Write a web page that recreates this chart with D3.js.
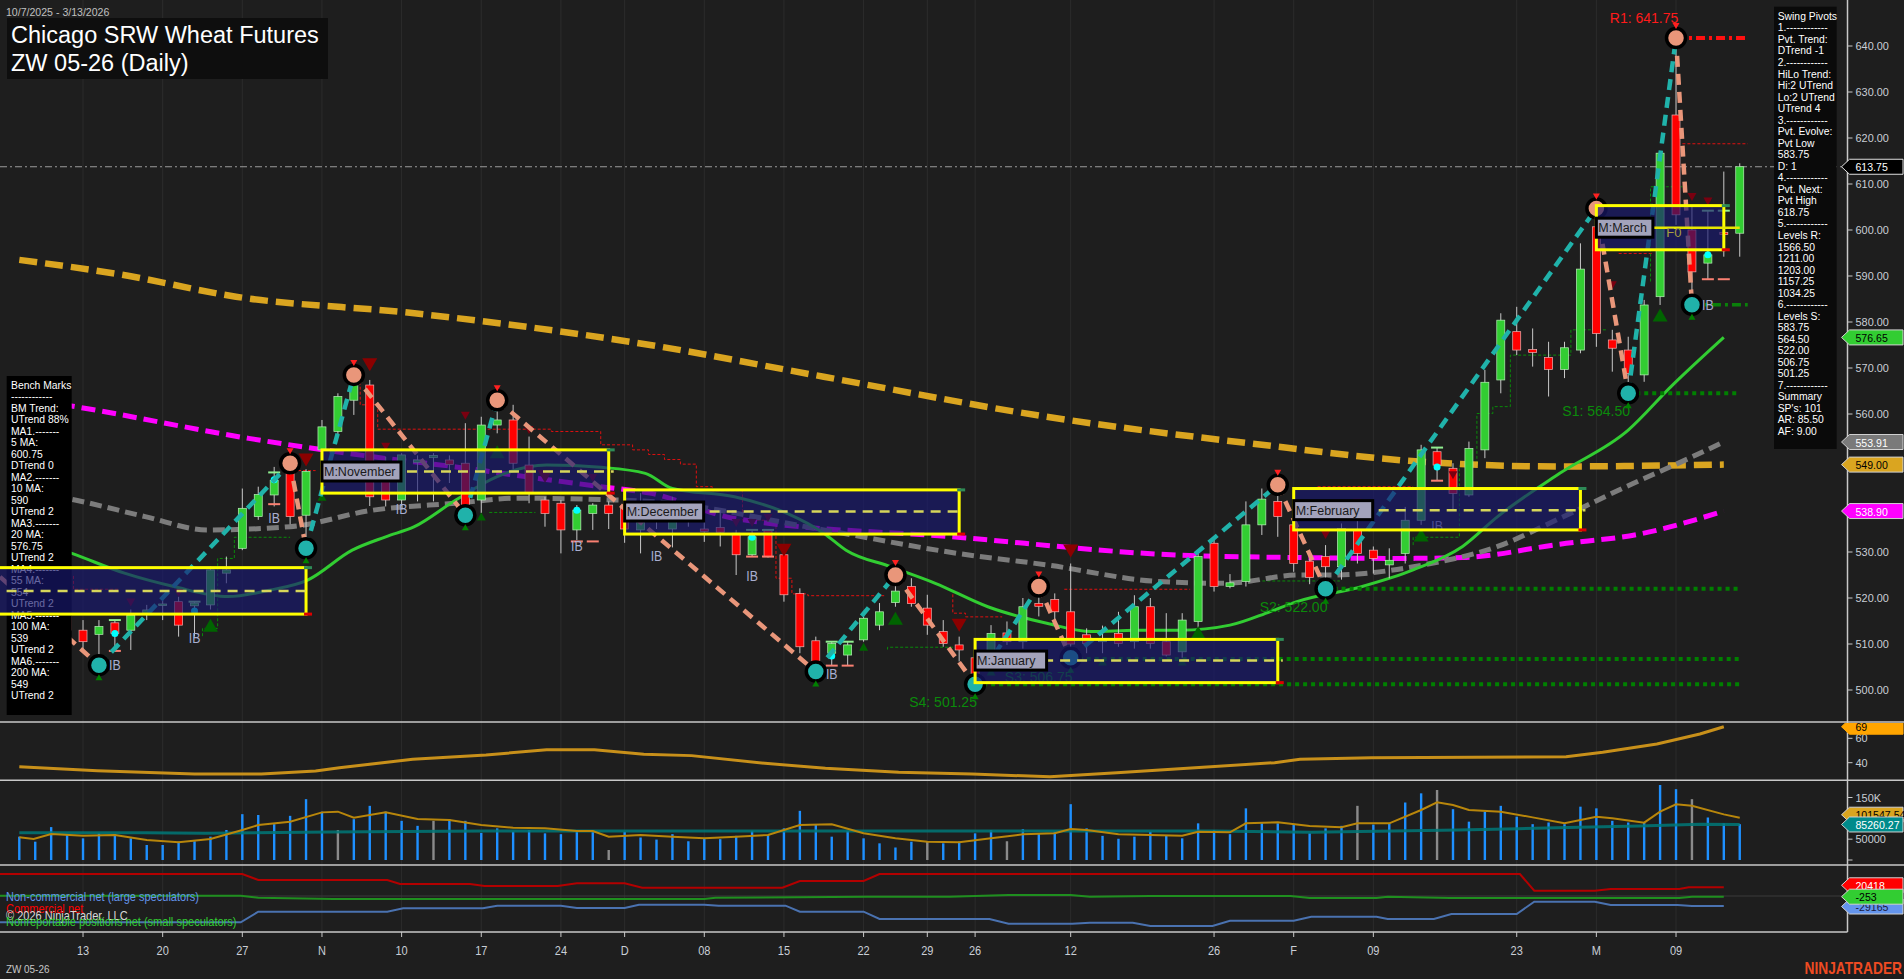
<!DOCTYPE html>
<html><head><meta charset="utf-8">
<script src="https://cdn.jsdelivr.net/npm/d3@7/dist/d3.min.js"></script>
<style>
html,body{margin:0;padding:0;background:#1e1e1e;overflow:hidden}
svg{display:block}
text{font-family:Arial,"Liberation Sans",sans-serif}
</style></head><body>
<svg id="chart" width="1904" height="979"></svg>
<script>
// ---------------- DATA ----------------
const sessionStart = "2025-10-07", sessionEnd = "2026-03-13";
const holidays = ["2025-11-27","2025-12-25","2026-01-01","2026-01-19","2026-02-16"];
const tickDates = ["2025-10-13","2025-10-20","2025-10-27","2025-11-03","2025-11-10","2025-11-17","2025-11-24","2025-12-01","2025-12-08","2025-12-15","2025-12-22","2025-12-29","2026-01-02","2026-01-12","2026-01-26","2026-02-02","2026-02-09","2026-02-23","2026-03-02","2026-03-09"];
const tickLabels = ["13","20","27","N","10","17","24","D","08","15","22","29","26","12","26","F","09","23","M","09"];

const opens  = [522,519,521,516,513,512.1,514.6,513,516.7,518.4,519.2,518.3,518.5,525.4,530.8,537.7,542.4,547.1,538,552.2,556.2,563,566.3,549.3,541.3,549.5,550.5,550,549.3,541.3,557.6,558.7,548.9,541.3,540.6,534.8,538.4,540.2,540,534.8,538,535,537.5,535,535.3,534.1,529.4,534.8,529.4,521,510.7,508,507.6,510.9,514.1,519,522.5,517.8,512.7,509.8,507,506.9,512.4,510.5,518.8,519.7,517,512,510.5,512.3,510.5,518.1,510.5,508.3,514.9,531.9,522.5,523.6,535.9,541,535.9,528,529,526.8,534.8,530.4,527.2,529.7,536.9,551.8,548.2,542.4,552.2,567.4,577.9,574,572.3,569.7,573.9,600.7,576.1,573.9,568.5,585.5,625,600,592.8,599.5,599.3];
const highs  = [525,523,524,523,515.2,515.2,515.2,517.5,518.5,520.6,520.3,519.2,526.8,529,543.8,544.2,548.5,549.3,548,558.7,564.5,568.5,567.4,550.7,551.5,551,551.5,551,558,559.4,563,562,555.1,542,541.3,540.2,540.6,541,541,542.8,541,542,539.1,537,539.1,534.8,535,535,530.8,522.1,511.6,510.5,510.5,516.7,518.9,525,524.3,520.7,515.2,511.6,507.5,514.1,514.9,520,522.5,521,527.5,513.4,514,517,520.6,520,516.7,516.7,529.7,533,525.2,541,543.8,544.6,538.4,530,531.5,536.2,537.3,531.2,530.8,539.8,553.3,552.7,549.3,554,569.6,581.9,583.3,578.6,575.7,575.7,597.1,604.7,578.3,576.8,584.8,617,641.75,605,604.2,612.7,614.5];
const lows   = [518,516,515,512,508.7,505.4,508.3,508.7,515.2,515.2,511.6,511.6,517.5,523.2,530.4,537,539.9,536,530.8,545,555,559.8,540,539.9,540,541,541,545,538,538.5,555.8,548,540.6,535.5,529.7,532.6,534.8,535,532,529.7,535,531,535.5,532.2,531.2,525,529,528.8,519.2,508,504,505.3,505.3,510.5,513,518.1,518.1,512,509.4,506.2,501.25,505.5,509.8,509,516,515,507,508,508,509.4,509,509,507.3,507,513,521.4,522.1,522.5,533.7,533.3,525.7,523,522,524,527.5,525.3,524.3,527.5,535.9,545.5,539.1,542,550.4,564.5,572.8,570.3,563.8,567.8,573.2,574.6,569.2,564.5,567,583.7,601.1,583.75,589.3,594.2,594.2];
const closes = [519,521,516,513,510.5,513.8,512.3,516.3,517.4,518.7,514.1,518.9,526.1,526.1,539.5,542.5,545.6,537.7,547.5,557.2,563.8,567.4,542,541.3,551.1,550,551,549,540,557.6,558.7,549.3,542.7,538.4,534.8,539.1,540.2,538.4,535,540.6,538.5,540,538,534.5,534.3,529.4,533.3,529,520.7,509.4,506.2,510.1,509.8,515.6,517,521.5,518.8,514.1,510.1,508.7,503.5,512.3,510.5,518.1,518.2,517,510,510.1,511,510.1,518.1,510.1,507.6,515.2,529,522.5,523.3,535.9,541.5,537.7,527.5,524.5,526.8,535.1,529.7,528.6,528.2,536.9,552.2,548.9,542.7,552.5,566.9,580.4,573.9,573.4,569.7,574.4,591.5,577.5,574.3,568.8,583.7,616.7,603.3,590.9,594.6,599,613.75];
const volumeK = [56,44,79,62,52,64,62,52,36,36,44,45,56,72,110,108,86,106,146,116,72,98,130,116,94,82,94,98,94,65,76,68,72,64,62,68,72,24,68,54,49,62,45,52,50,58,70,60,76,118,84,56,70,52,40,30,44,45,40,44,64,72,45,74,64,68,134,76,58,51,56,68,60,52,88,72,62,124,88,88,85,64,76,82,130,85,88,138,160,168,122,92,116,130,104,86,90,86,128,124,94,90,90,180,170,146,102,88,86];
const volumeGreyBars = [20,26,37,57,62,84,89,105];

// moving averages: [bar index, price]
const ma200 = [[0,593.5],[6.4,590.3],[13.6,585.5],[24.8,581.9],[39.6,575],[50.5,568.1],[64.5,559.4],[77.3,553.6],[88.1,549.6],[96.5,548.6],[107,549]];
const ma100 = [[0,563.5],[3.5,561.6],[14.4,554.7],[22.2,550.7],[27.4,548.5],[32.6,546],[36.5,544.2],[39.6,542.8],[44.9,537.3],[58.9,533.2],[72.9,529.3],[80.2,528.8],[86.5,528.6],[90.6,528.8],[96.7,531.7],[101.7,533.9],[107,538.9]];
const ma55  = [[0,543.5],[3.5,541.3],[7.9,537.7],[11.8,534.8],[17,535.5],[22.2,539.1],[27.4,540.6],[31.3,541.7],[36.5,541.4],[39.6,541],[50.5,534.8],[58.9,529.7],[64.5,527.2],[71.5,523.6],[75.7,523.2],[80.4,525],[82.3,525],[88.6,527.5],[92.8,531.2],[96.7,537.3],[101.3,544.9],[103.7,548.6],[107,553.91]];
const ma20  = [[0,533.5],[3.3,529.7],[6.6,525.4],[9.7,522.5],[13.1,520.3],[15.7,521.7],[18.1,523.9],[20.9,530.4],[23,533.3],[24.8,535.5],[27.4,541.3],[30,546.4],[33.1,548.9],[36.5,548.4],[39.3,547.1],[41,543.8],[44.9,542],[48.2,538.4],[50.5,534.1],[51.9,530.4],[54.7,526.8],[57.5,523.2],[60.8,518.1],[64.5,514.5],[67.3,512.7],[70.1,513],[72.9,513],[76,514.1],[78.5,517],[80.2,519.2],[84.3,522.5],[87.5,526.1],[90.6,531.2],[92.8,537.7],[96.7,547.1],[101,556.5],[103.7,566],[107,576.65]];

// swing pivots
const swingStart = [-1.21,524.6];
const pivotIdx   = [5,17,18,21,28,30,50,55,60,64,66,79,82,99,101,104,105];
const pivotPrice = [505.4,549.3,530.8,568.5,538,563,504,525,501.25,522.5,507,544.6,522,604.7,564.5,641.75,583.75];
const pivotType  = ["L","H","L","H","L","H","L","H","L","H","L","H","L","H","L","H","L"];

// monthly boxes
const monthNames = ["October","November","December","January","February","March"];
const monthStart = [-4,19,38,60,80,99];
const monthEnd   = [18,37,59,79,98,107];
const monthHigh  = [526.6,552.2,543.5,511,543.8,605.3];
const monthLow   = [516.5,542.8,533.9,501.6,534.8,595.7];
const monthMid   = [521.5,547.5,538.8,506.4,539.1,600.5];

// levels
const resistanceName = "R1", resistanceStart = 104, resistancePrice = 641.75;
const supportNames  = ["S1","S2","S3","S4"];
const supportStart  = [101,82,66,60];
const supportPrice  = [564.5,522,506.75,501.25];
const pivotLowStart = 105, pivotLowPrice = 583.75;
const currentPrice = 613.75;

// trailing step lines [bar index, price]
const redTrail = [
 [[3.4,524.8],[4.45,521.9],[6.3,521.9]],
 [[17.5,547.7],[18.6,547.7]],
 [[21.4,569.2],[22.5,562],[33.4,556.7],[36.5,556.2],[38.5,553.3],[39.5,552.2],[40.5,551.2],[41.5,550.1],[42.5,549.1],[43.5,544.2],[45.4,543.3],[47.5,536.9],[48.5,524.3],[49.5,520.9],[51.6,520.5],[54.4,520.5]],
 [[58.6,520.8],[59.4,516.7],[60.6,515.9],[61.7,515.9]],
 [[65.6,521.9],[73.5,521.9]],
 [[81.5,544.2],[87.5,544.2]],
 [[100.4,594.9],[102.5,594.9]],
 [[104.4,618.75],[108.5,618.75]]
];
const greenTrail = [
 [[11.5,511.7],[12.45,513.4],[13.5,528.6],[14.4,533.2],[17,533.2]],
 [[29.5,538.6],[32.4,538.6]],
 [[54.5,508.8],[57.5,509.3],[58.6,509.3]],
 [[77.4,523.7],[82.9,523.7]],
 [[87.5,531.5],[90.4,533.2],[91.5,548.7],[92.5,560.1],[93.6,561.6],[97.4,572.8],[98.4,578.3],[99.7,578.3]],
 [[102.4,588.8],[103.4,609.4],[104.4,609.4]]
];

// markers [bar index, price]
const downMarksBig = [[18,550],[22,570.7],[33,546.4],[48,530.4],[59,514.1],[66,530.2]];
const downMarksSmall = [[2.93,524.6],[7,519],[10,521.1],[23,552.9],[28,559.6],[32,556.5],[36,546.1],[45,536.3],[46,536.3],[47,537.4],[82,533.7],[84,540.7],[90,546.7],[100,588],[105,607.2],[106,606.2]];
const upMarksBig = [[12,514.1],[30,551.8],[55,515.6],[74,512.5],[88,533.7],[103,581.5]];
const upMarksSmall = [[19,542],[29,537.7],[53,509.4],[61,504],[68,506.2],[73,506.2]];
const cyanDots = [[6,512.3],[11,517.2],[16,545.7],[35,539.1],[40,538],[46,533.2],[51,507.4],[89,548.5],[106,594.6]];
const insideHigh = [[6,515.2],[11,519.2],[16,547.3],[46,534.8],[47,534.8],[51,510.5],[52,510.5],[89,552.7],[106,604.2],[107,604.2]];
const insideLow  = [[6,508.5],[16,540.4],[35,532.3],[36,532.3],[46,529],[47,529],[51,505.3],[52,505.3],[89,545.5],[106,589.3],[107,589.3]];
const ibLabels = [[6,505.4],[11,511.3],[16,537.4],[24,539.3],[35,531.2],[40,529.1],[46,524.8],[51,503.5],[89,535.5],[106,583.7]];

// lower panels
const rsi = [[0,36.75],[4.9,33.5],[11,30.7],[15.2,30.7],[18.6,33.2],[20.1,35.9],[24.7,42.8],[29.3,46.3],[33.1,50.7],[36.1,50.7],[39.2,46.9],[42.2,45.8],[46.8,39.5],[50.6,35.4],[55.2,32.1],[59.8,30.7],[64.7,28.5],[68.9,31.8],[74.3,36.2],[78.8,40],[80.4,42.8],[84.9,44.1],[97.1,44.9],[99.4,48.5],[102.8,55.3],[105.5,63.5],[107,69.5]];
const volAvgFastK = [[0,54.4],[0.9,50.4],[2,62.4],[4,58.4],[6,60],[8,48],[10,42.4],[12,50.4],[14,72],[15,84],[17,92],[19,114.3],[20,116],[21,101.5],[23,114.3],[25,98.3],[27,96],[29,84],[31,77.5],[33,76],[35,69.6],[36,69.6],[37,56],[39,60],[41,56],[43,52],[45,56],[47,60],[49,84],[51,85.5],[53,64],[55,52],[57,44],[59,42.4],[61,52],[63,61.6],[65,64],[66,74.4],[67,72],[69,61.6],[71,60],[73,58.4],[74,68],[76,66.4],[77,88],[79,90.4],[81,81.6],[83,78.4],[84,88],[86,88],[88,120],[89,138.3],[90,132],[91,120],[93,116],[95,102.3],[97,88],[99,104],[100,100],[102,89.6],[103,116],[104,133.5],[105,130],[107,109.5],[108,101.5]];
const volAvgSlowK = [[0,65.6],[7.9,65.6],[11.7,64],[19.4,67],[29.3,69.6],[52.2,69.6],[75,69.6],[81.1,66.4],[90.3,72],[94.1,75],[97.9,78.4],[101.7,81.6],[105.5,85.5],[108,85.26]];
const cotCommercial = [[-1.21,61100],[14,61100],[15,44400],[23.1,44400],[23.9,33300],[28.3,33300],[29.2,27800],[33.8,27800],[35,35300],[38,35300],[39.1,23000],[47.9,23000],[49,41700],[53,41700],[54,61100],[94.2,61100],[95.1,14700],[98.9,14700],[99.9,19400],[104.2,19400],[104.8,24200],[107,24200]];
const cotSmall = [[-1.21,833],[13.9,833],[15,-4720],[19.7,-8330],[43,-8330],[43.7,-4720],[53.2,-1940],[58.4,-1940],[62.1,2780],[66,2780],[67.2,-1940],[71,0],[79.8,0],[81,-5560],[85.2,-5560],[85.9,-1940],[89.8,-5560],[104.2,-5560],[105,-1940],[107,-1940]];
const cotLarge = [[-1.21,-73000],[13.9,-73000],[15,-43600],[23.1,-43600],[24.1,-34200],[29.1,-34200],[30,-26900],[34,-26900],[35,-33300],[38,-33300],[38.9,-24200],[43,-24200],[43.9,-26900],[48.1,-26900],[49,-43600],[53,-43600],[54,-63900],[60.9,-63900],[62.1,-76900],[66.1,-76900],[67.2,-74200],[69.9,-74200],[71,-83300],[74.9,-83300],[76,-68600],[80,-68600],[81.1,-57500],[85.2,-57500],[85.9,-63900],[88.8,-63900],[89.9,-50000],[94,-50000],[95.1,-15800],[98.9,-15800],[99.9,-25000],[104.1,-25000],[105,-27800],[107,-27800]];

const swingText = ["Swing Pivots","1.------------","Pvt. Trend:","DTrend -1","2.------------","HiLo Trend:","Hi:2 UTrend","Lo:2 UTrend","UTrend 4","3.------------","Pvt. Evolve:","Pvt Low","583.75","D: 1","4.------------","Pvt. Next:","Pvt High","618.75","5.------------","Levels R:","1566.50","1211.00","1203.00","1157.25","1034.25","6.------------","Levels S:","583.75","564.50","522.00","506.75","501.25","7.------------","Summary","SP's: 101","AR: 85.50","AF: 9.00"];
const benchText = ["Bench Marks","------------","BM Trend:","UTrend 88%","MA1.-------","5 MA:","600.75","DTrend 0","MA2.-------","10 MA:","590","UTrend 2","MA3.-------","20 MA:","576.75","UTrend 2","MA4.-------","55 MA:","554","UTrend 2","MA5.-------","100 MA:","539","UTrend 2","MA6.-------","200 MA:","549","UTrend 2"];
const cotLegend = ["Non-commercial net (large speculators)","Commercial net","© 2026 NinjaTrader, LLC","Nonreportable positions net (small speculators)"];
const tagValues = {price:"613.75", ma20:"576.65", ma55:"553.91", ma200:"549.00", ma100:"538.90", rsi:"69", volFast:"101547.54", volSlow:"85260.27", cotRed:"20418", cotGreen:"-253", cotBlue:"-29165"};

// ---------------- DRAW ----------------
const fmt = d3.timeFormat("%Y-%m-%d");
const hol = new Set(holidays);
const days = d3.timeDay.range(new Date(sessionStart+"T00:00"), d3.timeDay.offset(new Date(sessionEnd+"T00:00"),1))
  .filter(d => d.getDay()>0 && d.getDay()<6 && !hol.has(fmt(d))).map(fmt);
const idxOf = new Map(days.map((d,i)=>[d,i]));
const N = days.length;

const AX = 1847.5;
const x = d3.scaleLinear().domain([0, N-1]).range([19.3, 19.3 + (N-1)*15.93]);
const y = d3.scaleLinear().domain([500,640]).range([690,46]);
const yR = d3.scaleLinear().domain([40,60]).range([762.7,738.3]);
const yV = d3.scaleLinear().domain([0,150000]).range([860,797.5]);
const yC = d3.scaleLinear().domain([0,10000]).range([896,892.4]);

const svg = d3.select("#chart");
svg.append("rect").attr("width",1904).attr("height",979).attr("fill","#1e1e1e");
const defs = svg.append("defs");
const clip = (id,x0,y0,w,h)=>defs.append("clipPath").attr("id",id).append("rect").attr("x",x0).attr("y",y0).attr("width",w).attr("height",h);
clip("cp",0,0,AX,722); clip("cr",0,722,AX,58); clip("cv",0,780,AX,85); clip("cc",0,865,AX,67);

// vertical grid
const grid = svg.append("g");
tickDates.forEach(d=>{ const xi=x(idxOf.get(d)); grid.append("line").attr("x1",xi).attr("x2",xi).attr("y1",0).attr("y2",932).attr("stroke","#2c2c2c").attr("stroke-width",1); });

const P = svg.append("g").attr("clip-path","url(#cp)");
const lineP = d3.line().x(d=>x(d[0])).y(d=>y(d[1]));
const smooth = d3.line().x(d=>x(d[0])).y(d=>y(d[1])).curve(d3.curveMonotoneX);
const step = d3.line().x(d=>x(d[0])).y(d=>y(d[1])).curve(d3.curveStepBefore);

// current price line
P.append("line").attr("x1",0).attr("x2",AX).attr("y1",y(currentPrice)).attr("y2",y(currentPrice))
 .attr("stroke","#9a9a9a").attr("stroke-width",1.2).attr("stroke-dasharray","7,3,2,3");

// trails
redTrail.forEach(g=>P.append("path").attr("d",step(g)).attr("fill","none").attr("stroke","#e01010").attr("stroke-width",1).attr("stroke-dasharray","3,2"));
greenTrail.forEach(g=>P.append("path").attr("d",step(g)).attr("fill","none").attr("stroke","#0a8a0a").attr("stroke-width",1).attr("stroke-dasharray","3,2"));

// moving averages
P.append("path").attr("d",smooth(ma200)).attr("fill","none").attr("stroke","#DAA520").attr("stroke-width",6.5).attr("stroke-dasharray","18,8");
P.append("path").attr("d",smooth(ma100)).attr("fill","none").attr("stroke","#FF00FF").attr("stroke-width",5).attr("stroke-dasharray","14,7");
P.append("path").attr("d",smooth(ma55)).attr("fill","none").attr("stroke","#7c7c7c").attr("stroke-width",5).attr("stroke-dasharray","12,6");
P.append("path").attr("d",smooth(ma20)).attr("fill","none").attr("stroke","#32CD32").attr("stroke-width",3);

// support/resistance levels
supportStart.forEach((s,k)=>{
  P.append("line").attr("x1",x(s)).attr("x2",x(N-1)).attr("y1",y(supportPrice[k])).attr("y2",y(supportPrice[k]))
   .attr("stroke","#008000").attr("stroke-width",4).attr("stroke-dasharray","4,4");
  P.append("text").attr("x",x(s)-32).attr("y",y(supportPrice[k])+18).attr("text-anchor","middle").attr("dominant-baseline","central")
   .attr("font-size",14).attr("fill","#0b8a0b").text(`${supportNames[k]}: ${supportPrice[k].toFixed(2)}`);
});
P.append("line").attr("x1",x(pivotLowStart)).attr("x2",x(N-1)+8).attr("y1",y(pivotLowPrice)).attr("y2",y(pivotLowPrice))
 .attr("stroke","#0a800a").attr("stroke-width",3.5).attr("stroke-dasharray","9,4,3,4");
P.append("line").attr("x1",x(resistanceStart)).attr("x2",x(N-1)+8).attr("y1",y(resistancePrice)).attr("y2",y(resistancePrice))
 .attr("stroke","#ff1010").attr("stroke-width",4).attr("stroke-dasharray","9,4,3,4");
P.append("text").attr("x",x(resistanceStart)-32).attr("y",y(resistancePrice)-20).attr("text-anchor","middle").attr("dominant-baseline","central")
 .attr("font-size",14).attr("fill","#ff1a1a").text(`${resistanceName}: ${resistancePrice.toFixed(2)}`);

// candles
const C = P.append("g");
d3.range(N).forEach(i=>{
  const up = closes[i]>=opens[i], cx = x(i);
  C.append("line").attr("x1",cx).attr("x2",cx).attr("y1",y(highs[i])).attr("y2",y(lows[i])).attr("stroke","#c8c8c8").attr("stroke-width",1);
  const t = y(Math.max(opens[i],closes[i])), b = y(Math.min(opens[i],closes[i]));
  C.append("rect").attr("x",cx-4).attr("y",t).attr("width",8).attr("height",Math.max(1.5,b-t))
   .attr("fill",up?"#32CD32":"#FF0000").attr("stroke",up?"#b8f0b8":"#f0b0b0").attr("stroke-width",0.7);
});

// markers
const tri = (cx,cy,w,h,down)=> down ? `M${cx-w/2},${cy-h/2}L${cx+w/2},${cy-h/2}L${cx},${cy+h/2}Z` : `M${cx-w/2},${cy+h/2}L${cx+w/2},${cy+h/2}L${cx},${cy-h/2}Z`;
downMarksBig.forEach(d=>P.append("path").attr("d",tri(x(d[0]),y(d[1]),15,13,true)).attr("fill","#8B0000"));
downMarksSmall.forEach(d=>P.append("path").attr("d",tri(x(d[0]),y(d[1]),9,8,true)).attr("fill","#7a0010"));
upMarksBig.forEach(d=>P.append("path").attr("d",tri(x(d[0]),y(d[1]),15,13,false)).attr("fill","#006400"));
upMarksSmall.forEach(d=>P.append("path").attr("d",tri(x(d[0]),y(d[1]),9,8,false)).attr("fill","#006400"));
insideHigh.forEach(d=>P.append("line").attr("x1",x(d[0])-6).attr("x2",x(d[0])+6).attr("y1",y(d[1])).attr("y2",y(d[1])).attr("stroke","#90EE90").attr("stroke-width",2));
insideLow.forEach(d=>P.append("line").attr("x1",x(d[0])-6).attr("x2",x(d[0])+6).attr("y1",y(d[1])).attr("y2",y(d[1])).attr("stroke","#FA8072").attr("stroke-width",2));
cyanDots.forEach(d=>P.append("circle").attr("cx",x(d[0])).attr("cy",y(d[1])).attr("r",3.5).attr("fill","#00FFFF"));

// swing zigzag
const pts = [swingStart].concat(pivotIdx.map((p,k)=>[p,pivotPrice[k]]));
for(let k=1;k<pts.length;k++){
  const upLeg = pivotType[k-1]==="H";
  P.append("path").attr("d",lineP([pts[k-1],pts[k]])).attr("fill","none")
   .attr("stroke",upLeg?"#20B2AA":"#E9967A").attr("stroke-width",4.5).attr("stroke-dasharray","11,7");
}
pivotIdx.forEach((p,k)=>{
  const cx=x(p), cy=y(pivotPrice[k]), hi = pivotType[k]==="H";
  P.append("circle").attr("cx",cx).attr("cy",cy).attr("r",9.5).attr("fill",hi?"#E9967A":"#20B2AA").attr("stroke","#000").attr("stroke-width",3.5);
  if(hi) P.append("path").attr("d",tri(cx,cy-12,7,6,true)).attr("fill","#ff2020");
  else P.append("path").attr("d",tri(cx,cy+12,7,6,false)).attr("fill","#008000");
});

// IB labels
ibLabels.forEach(d=>P.append("text").attr("transform",`translate(${x(d[0])},${y(d[1])}) scale(0.88,1)`).attr("text-anchor","middle").attr("dominant-baseline","central")
 .attr("font-size",14).attr("fill","#a9aed0").text("IB"));

// bench marks box
P.append("rect").attr("x",6.7).attr("y",376).attr("width",65).attr("height",339).attr("fill","#000");
benchText.forEach((t,k)=>P.append("text").attr("transform",`translate(11,${384.7+k*11.5}) scale(0.9,1)`).attr("dominant-baseline","central")
 .attr("font-size",11.5).attr("fill","#fff").text(t));

// monthly boxes
monthNames.forEach((m,k)=>{
  const x0=x(monthStart[k]), x1=x(monthEnd[k]), yt=y(monthHigh[k]), yb=y(monthLow[k]), ym=y(monthMid[k]);
  P.append("rect").attr("x",x0).attr("y",yt).attr("width",x1-x0).attr("height",yb-yt).attr("fill","rgba(25,25,112,0.66)").attr("stroke","#FFFF00").attr("stroke-width",3);
  const last = k===monthNames.length-1;
  P.append("line").attr("x1",x0).attr("x2",last?x(N-1):x1+5).attr("y1",ym).attr("y2",ym)
   .attr("stroke",last?"#e6e600":"#d6d65a").attr("stroke-width",2.5).attr("stroke-dasharray",last?null:"10,7");
  P.append("line").attr("x1",x1-2).attr("x2",x1+6).attr("y1",yt).attr("y2",yt).attr("stroke","#2e8b57").attr("stroke-width",3);
  P.append("line").attr("x1",x1-2).attr("x2",x1+6).attr("y1",yb).attr("y2",yb).attr("stroke","#dd0000").attr("stroke-width",3);
  if(k>0){
    const label = "M:"+m, w = label.length*7.5+4;
    P.append("rect").attr("x",x0).attr("y",ym-9.5).attr("width",w).attr("height",19).attr("fill","#a3a3bb").attr("stroke","#000").attr("stroke-width",3);
    P.append("text").attr("x",x0+2).attr("y",ym+0.5).attr("dominant-baseline","central").attr("font-family","'Liberation Mono','DejaVu Sans Mono',monospace")
     .attr("font-size",12.5).attr("fill","#1a1a1a").text(label);
  }
});
P.append("text").attr("x",x(monthStart[5])+70).attr("y",y(monthMid[5])+5).attr("dominant-baseline","central").attr("font-size",13).attr("fill","#a8a040").text("F0");

// swing pivots box
svg.append("rect").attr("x",1774).attr("y",6.7).attr("width",62.7).attr("height",442.3).attr("fill","#0a0a0a");
swingText.forEach((t,k)=>svg.append("text").attr("transform",`translate(1777.7,${15.7+k*11.53}) scale(0.9,1)`).attr("dominant-baseline","central")
 .attr("font-size",11.5).attr("fill","#fff").text(t));

// title
svg.append("text").attr("transform","translate(6,12) scale(0.92,1)").attr("dominant-baseline","central").attr("font-size",11.5).attr("fill","#c0c0c0")
 .text("10/7/2025 - 3/13/2026");
svg.append("rect").attr("x",7).attr("y",18).attr("width",321).attr("height",61).attr("fill","#0e0e0e");
svg.append("text").attr("x",11).attr("y",43).attr("font-size",23.5).attr("fill","#fff").text("Chicago SRW Wheat Futures");
svg.append("text").attr("x",11).attr("y",70.5).attr("font-size",23.5).attr("fill","#fff").text("ZW 05-26 (Daily)");

// ---- RSI panel
const R = svg.append("g").attr("clip-path","url(#cr)");
R.append("path").attr("d",d3.line().x(d=>x(d[0])).y(d=>yR(d[1]))(rsi)).attr("fill","none").attr("stroke","#C8901A").attr("stroke-width",3);

// ---- Volume panel
const V = svg.append("g").attr("clip-path","url(#cv)");
const grey = new Set(volumeGreyBars);
volumeK.forEach((v,i)=>V.append("rect").attr("x",x(i)-1.2).attr("y",yV(v*1000)).attr("width",2.4).attr("height",yV(0)-yV(v*1000))
  .attr("fill",grey.has(i)?"#8a8a8a":"#1E90FF"));
V.append("path").attr("d",d3.line().x(d=>x(d[0])).y(d=>yV(d[1]*1000))(volAvgSlowK)).attr("fill","none").attr("stroke","#007878").attr("stroke-width",3).attr("opacity",0.85);
V.append("path").attr("d",d3.line().x(d=>x(d[0])).y(d=>yV(d[1]*1000))(volAvgFastK)).attr("fill","none").attr("stroke","#B8860B").attr("stroke-width",2);

// ---- COT panel
const K = svg.append("g").attr("clip-path","url(#cc)");
K.append("line").attr("x1",0).attr("x2",AX).attr("y1",yC(0)).attr("y2",yC(0)).attr("stroke","#3a3a3a");
const cl = d3.line().x(d=>x(d[0])).y(d=>yC(d[1]));
K.append("path").attr("d",cl(cotCommercial)).attr("fill","none").attr("stroke","#b30000").attr("stroke-width",2);
K.append("path").attr("d",cl(cotSmall)).attr("fill","none").attr("stroke","#1f8f1f").attr("stroke-width",2);
K.append("path").attr("d",cl(cotLarge)).attr("fill","none").attr("stroke","#4a72b0").attr("stroke-width",2);
const legCol = ["#6495ED","#FF0000","#d8d8d8","#32CD32"], legY=[897,909,915.5,922];
cotLegend.forEach((t,k)=>svg.append("text").attr("transform",`translate(6,${legY[k]}) scale(0.92,1)`).attr("dominant-baseline","central").attr("font-size",12).attr("fill",legCol[k]).text(t));

// separators and axes
[722,780.3,865].forEach(yy=>svg.append("line").attr("x1",0).attr("x2",1904).attr("y1",yy).attr("y2",yy).attr("stroke","#c8c8c8").attr("stroke-width",1.5));
svg.append("line").attr("x1",AX).attr("x2",AX).attr("y1",0).attr("y2",932).attr("stroke","#c8c8c8").attr("stroke-width",1.5);
svg.append("line").attr("x1",0).attr("x2",AX).attr("y1",932).attr("y2",932).attr("stroke","#c8c8c8").attr("stroke-width",1.5);

// tags positions (values drawn on right axis)
const tagYs = [y(+tagValues.price), y(+tagValues.ma20), y(+tagValues.ma55), y(+tagValues.ma200), y(+tagValues.ma100)];
const axisTxt = (yy,t)=>{ svg.append("line").attr("x1",AX).attr("x2",AX+5).attr("y1",yy).attr("y2",yy).attr("stroke","#c8c8c8");
  if(t) svg.append("text").attr("transform",`translate(${AX+8},${yy}) scale(0.95,1)`).attr("dominant-baseline","central").attr("font-size",11.5).attr("fill","#c9ced6").text(t); };
y.ticks(14).forEach(v=>{ const yy=y(v); const covered = tagYs.some(t=>Math.abs(t-yy)<12); axisTxt(yy, covered?"":v.toFixed(2)); });
[60,40].forEach(v=>axisTxt(yR(v), String(v)));
axisTxt(yV(150000),"150K"); axisTxt(yV(50000),"50000"); axisTxt(yV(0),"");

tickDates.forEach((d,k)=>{ const xi=x(idxOf.get(d));
  svg.append("line").attr("x1",xi).attr("x2",xi).attr("y1",932).attr("y2",937).attr("stroke","#c8c8c8");
  svg.append("text").attr("transform",`translate(${xi},951) scale(0.92,1)`).attr("text-anchor","middle").attr("dominant-baseline","central").attr("font-size",12).attr("fill","#c9ced6").text(tickLabels[k]); });

// tags
const tagPath = yy=>`M${AX-6},${yy}L${AX+2},${yy-7.5}L1903,${yy-7.5}L1903,${yy+7.5}L${AX+2},${yy+7.5}Z`;
const tag = (yy,txt,fill,tc,stroke,parent)=>{
  const g = (parent||svg).append("g");
  g.append("path").attr("d",tagPath(yy)).attr("fill",fill).attr("stroke",stroke||"#d0d0d0").attr("stroke-width",1);
  g.append("text").attr("transform",`translate(${AX+8},${yy+0.5}) scale(0.92,1)`).attr("dominant-baseline","central").attr("font-size",11.5).attr("fill",tc).text(txt);
  return g;
};
tag(y(+tagValues.price),tagValues.price,"#000","#fff","#e0e0e0");
tag(y(+tagValues.ma20),tagValues.ma20,"#32CD32","#000");
tag(y(+tagValues.ma55),tagValues.ma55,"#7a7a7a","#fff");
tag(y(+tagValues.ma200),tagValues.ma200,"#DAA520","#000");
tag(y(+tagValues.ma100),tagValues.ma100,"#FF00FF","#fff");
defs.append("clipPath").attr("id","crt").append("rect").attr("x",AX-10).attr("y",723).attr("width",70).attr("height",56);
tag(yR(69.5),tagValues.rsi,"#FFA500","#000","#FFA500", svg.append("g").attr("clip-path","url(#crt)"));
tag(yV(volAvgFastK[volAvgFastK.length-1][1]*1000)-3,tagValues.volFast,"#DAA520","#000");
tag(yV(85260.27),tagValues.volSlow,"#008B8B","#fff");
tag(yC(cotCommercial[cotCommercial.length-1][1])-2,tagValues.cotRed,"#FF0000","#fff");
tag(yC(cotLarge[cotLarge.length-1][1])+0.5,tagValues.cotBlue,"#6495ED","#1a1a40");
tag(yC(cotSmall[cotSmall.length-1][1]),tagValues.cotGreen,"#32CD32","#000");

// footer
svg.append("text").attr("transform","translate(6,969) scale(0.9,1)").attr("dominant-baseline","central").attr("font-size",11).attr("fill","#c8c8c8").text("ZW 05-26");
svg.append("text").attr("transform","translate(1902,968) scale(0.86,1)").attr("text-anchor","end").attr("dominant-baseline","central")
 .attr("font-size",16).attr("font-weight","bold").attr("fill","#EE4B22").text("NINJATRADER");
</script></body></html>
